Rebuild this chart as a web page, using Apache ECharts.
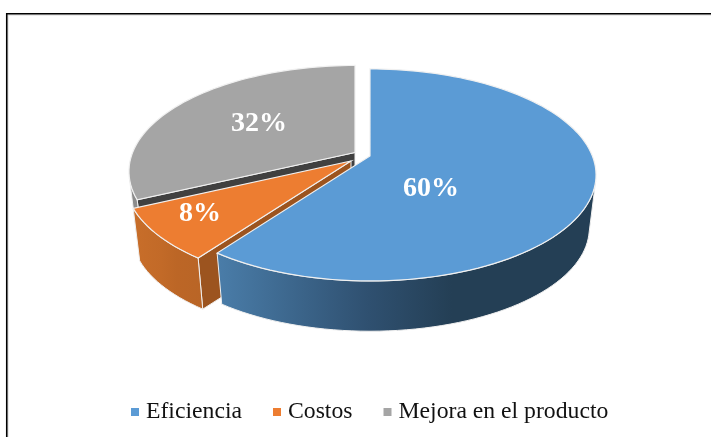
<!DOCTYPE html>
<html>
<head>
<meta charset="utf-8">
<style>html,body{margin:0;padding:0;background:#fff}#c{width:711px;height:437px}</style>
<script src="https://cdn.jsdelivr.net/npm/echarts@6/dist/echarts.min.js"></script>
</head>
<body>
<div id="c"></div>
<script>
var categories = ['Eficiencia', 'Costos', 'Mejora en el producto'];
var values = [60, 8, 32];
var colors = ['#5b9bd5', '#ed7d31', '#a5a5a5'];

// Perspective disc layout
var geo = { cx: 370, cy: 156, A: 222.4, B: 102.6, k: 0.179, depth: 54, shrink: 0.97 };
var sliceStyle = [
  { dx: 0, dy: 0, rim: [216, 104], labelDx: 61, labelDy: 33, wall: null,
    side: ['#4a7da9', '#2f5070', '#243f55', '#243f55'] },
  { dx: -19, dy: 5, rim: [216, 244.8], labelDx: -151, labelDy: 53, wall: { at: 216, color: '#9c541f' },
    side: ['#c86e2a', '#c26a28', '#bc6626', '#b96526'] },
  { dx: -15, dy: -3.5, rim: [244.8, 256], labelDx: -96, labelDy: -29, wall: { at: 244.8, color: '#404040' },
    side: ['#8c8c8c', '#8c8c8c', '#8c8c8c', '#8c8c8c'] }
];

function total() { return values.reduce(function (a, b) { return a + b; }, 0); }
function startAngle(i) {
  var s = 0;
  for (var j = 0; j < i; j++) s += values[j];
  return s / total() * 360;
}
function project(ax, ay, deg, r, low) {
  var t = deg * Math.PI / 180, u = Math.sin(t) * r, v = -Math.cos(t) * r;
  var d = 1 - geo.k * v;
  var x = geo.A * u / d, y = geo.B * v / d;
  if (low) return [ax + x * geo.shrink, ay + geo.depth + y * geo.shrink];
  return [ax + x, ay + y];
}
function arc(ax, ay, a0, a1, low) {
  var pts = [], n = Math.max(2, Math.ceil(Math.abs(a1 - a0) / 2));
  for (var i = 0; i <= n; i++) pts.push(project(ax, ay, a0 + (a1 - a0) * i / n, 1, low));
  return pts;
}
function renderSlice(idx) {
  return function (params, api) {
    var st = sliceStyle[idx], val = api.value(0);
    var ax = geo.cx + st.dx, ay = geo.cy + st.dy;
    var a0 = startAngle(idx), a1 = a0 + val / total() * 360;
    var edge = '#f0f0f0', kids = [];
    var rimTop = arc(ax, ay, st.rim[0], st.rim[1], false);
    var rimLow = arc(ax, ay, st.rim[1], st.rim[0], true);
    if (st.wall) {
      kids.push({ type: 'polygon', shape: { points: [[ax, ay], project(ax, ay, st.wall.at, 1, false), project(ax, ay, st.wall.at, 1, true), [ax, ay + geo.depth]] },
        style: { fill: st.wall.color, stroke: edge, lineWidth: 1 } });
    }
    kids.push({ type: 'polygon', shape: { points: rimTop.concat(rimLow) },
      style: {
        fill: new echarts.graphic.LinearGradient(0, 0, 1, 0, [
          { offset: 0, color: st.side[0] }, { offset: 0.4, color: st.side[1] },
          { offset: 0.62, color: st.side[2] }, { offset: 1, color: st.side[3] }]),
        stroke: edge, lineWidth: 1 } });
    kids.push({ type: 'polygon', shape: { points: [[ax, ay]].concat(arc(ax, ay, a0, a1, false)) },
      style: { fill: colors[idx], stroke: edge, lineWidth: 1.2 } });
    kids.push({ type: 'text', z2: 10, style: { x: ax + st.labelDx, y: ay + st.labelDy, text: val + '%', fill: '#fff',
      font: 'bold 28px "Liberation Serif"', textAlign: 'center', textVerticalAlign: 'middle' } });
    return { type: 'group', children: kids };
  };
}

var chart = echarts.init(document.getElementById('c'), null, { renderer: 'canvas' });
var zOrder = [3, 2, 1];
chart.setOption({
  animation: false,
  backgroundColor: '#fff',
  graphic: [
    { type: 'rect', silent: true, z: 0, shape: { x: 8, y: 15, width: 800, height: 500 }, style: { fill: 'none', stroke: '#d8d8d8', lineWidth: 1 } },
    { type: 'rect', silent: true, z: 0, shape: { x: 6.75, y: 13.75, width: 800, height: 500 }, style: { fill: 'none', stroke: '#000', lineWidth: 1.6 } }
  ],
  legend: {
    left: 126, top: 395, icon: 'rect', itemWidth: 8, itemHeight: 8, itemGap: 31,
    data: categories,
    textStyle: { fontFamily: 'Liberation Serif', fontSize: 23.7, color: '#111', padding: [0, 0, 0, 2] }
  },
  series: categories.map(function (name, i) {
    return { type: 'custom', name: name, coordinateSystem: 'none', z: zOrder[i], silent: true,
      itemStyle: { color: colors[i] }, data: [[values[i]]], renderItem: renderSlice(i) };
  })
});
</script>
</body>
</html>
